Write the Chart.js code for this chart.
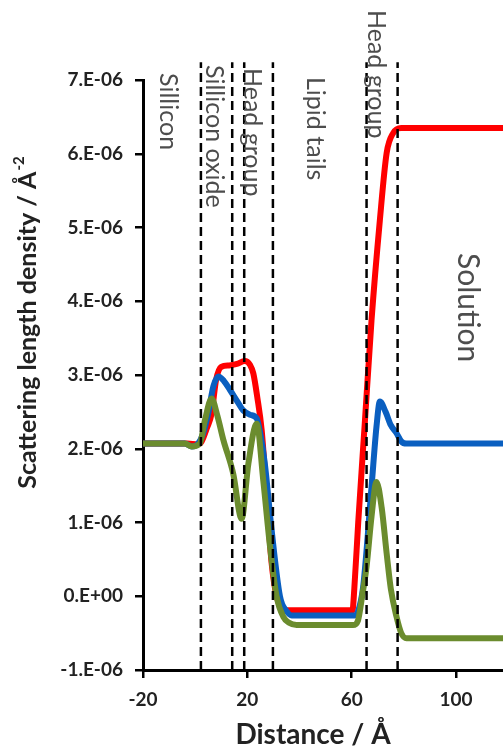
<!DOCTYPE html>
<html>
<head>
<meta charset="utf-8">
<script src="https://cdn.jsdelivr.net/npm/chart.js@4.4.1/dist/chart.umd.min.js"></script>
<style>
  html, body { margin: 0; padding: 0; background: #fff; }
  canvas { display: block; }
</style>
</head>
<body>
<canvas id="sld" width="503" height="751"></canvas>
<script>
// SLD profiles, y in units of 1E-06 Å^-2
const redX = [-20, -3, 1, 2.5, 4.5, 6.3, 8, 10, 13, 16, 19, 21, 22.3, 23.8, 25.5, 27.4, 29.3, 31.2, 33, 35, 45, 60.3, 61, 62.5, 65.1, 67.6, 70.8, 73.4, 75.9, 79, 82, 118];
const redY = [2.07, 2.07, 2.06, 2.1, 2.28, 2.48, 2.93, 3.11, 3.13, 3.15, 3.19, 3.14, 3.02, 2.7, 2.25, 1.35, 0.45, 0.0, -0.15, -0.19, -0.19, -0.19, 0.1, 1.0, 2.39, 3.74, 5.1, 6.01, 6.28, 6.35, 6.35, 6.35];

const blueX = [-20, -4, -1.3, 1.1, 3, 5, 7, 8.9, 11, 13.3, 16, 18.4, 21, 23.6, 25, 26.7, 29.3, 32.5, 35, 37, 45, 61.2, 62.5, 64.4, 67.6, 69.5, 70.8, 73, 75, 77.2, 79, 81, 90, 118];
const blueY = [2.07, 2.07, 2.03, 2.07, 2.2, 2.48, 2.85, 2.98, 2.92, 2.8, 2.65, 2.52, 2.46, 2.41, 2.2, 1.8, 0.9, 0.0, -0.2, -0.26, -0.26, -0.26, -0.2, 0.13, 1.48, 2.3, 2.64, 2.5, 2.32, 2.21, 2.1, 2.07, 2.07, 2.07];

const greenX = [-20, -4, -1.3, 1.8, 3.75, 6.3, 8.5, 10.8, 14.6, 17.8, 20.4, 23.6, 26.1, 28.7, 31.2, 33.8, 36, 38.9, 45, 60.5, 62.4, 64, 65.7, 67.6, 69.5, 71.5, 73.4, 75, 77.2, 79, 81, 90, 118];
const greenY = [2.07, 2.07, 2.03, 2.07, 2.39, 2.68, 2.45, 2.12, 1.66, 1.05, 1.8, 2.34, 1.57, 0.67, 0.0, -0.28, -0.36, -0.39, -0.39, -0.39, -0.33, 0.0, 0.4, 1.08, 1.55, 1.2, 0.58, 0.1, -0.28, -0.5, -0.57, -0.57, -0.57];

// layer boundaries (dashed lines), Å
const boundaries = [2.2, 14.2, 18.8, 29.8, 65.7, 77.6];
const dashTop = 7.24;

const xTicks = [-20, 20, 60, 100];
const yTicks = [-1, 0, 1, 2, 3, 4, 5, 6, 7];
const yTickLabels = ['-1.E-06', '0.E+00', '1.E-06', '2.E-06', '3.E-06', '4.E-06', '5.E-06', '6.E-06', '7.E-06'];

const regionNames = ['Sillicon', 'Sillicon oxide', 'Head group', 'Lipid tails', 'Head group', 'Solution'];

const pts = (xs, ys) => xs.map((x, i) => ({ x: x, y: ys[i] }));

function curve(label, xs, ys, color, order) {
    return {
        label: label,
        data: pts(xs, ys),
        showLine: true,
        borderColor: color,
        borderWidth: 6,
        pointRadius: 0,
        cubicInterpolationMode: 'monotone',
        order: order
    };
}

const dashSets = boundaries.map(b => ({
    label: 'boundary',
    data: [{ x: b, y: -1 }, { x: b, y: dashTop }],
    showLine: true,
    borderColor: '#000',
    borderWidth: 2.5,
    borderDash: [9, 5],
    pointRadius: 0,
    clip: false,
    order: 0
}));

// rotated region labels, placed by x value and pixel top
const regionLayout = [
    { x: -10.4, top: 73, size: 25 },
    { x: 7.2, top: 65, size: 25 },
    { x: 21.8, top: 68, size: 25 },
    { x: 45.9, top: 77, size: 25 },
    { x: 69.3, top: 10, size: 25 },
    { x: 104.5, top: 253, size: 30 }
];

const annotations = {
    id: 'annotations',
    afterDatasetsDraw(chart) {
        const ctx = chart.ctx;
        const xs = chart.scales.x;
        ctx.save();
        ctx.fillStyle = '#4d4d4d';
        ctx.textAlign = 'left';
        ctx.textBaseline = 'middle';
        regionNames.forEach((name, i) => {
            const p = regionLayout[i];
            ctx.save();
            ctx.translate(xs.getPixelForValue(p.x), p.top);
            ctx.rotate(Math.PI / 2);
            ctx.font = p.size + 'px Lato';
            ctx.fillText(name, 0, 0);
            ctx.restore();
        });
        ctx.restore();
    },
    afterDraw(chart) {
        // axis titles, drawn by hand so they sit where the figure has them
        const ctx = chart.ctx;
        ctx.save();
        ctx.fillStyle = '#222';
        ctx.textBaseline = 'middle';

        ctx.font = 'bold 28px Lato';
        ctx.textAlign = 'center';
        ctx.fillText('Distance / Å', 313, 735);

        const main = 'Scattering length density / Å';
        ctx.font = 'bold 25px Lato';
        const w1 = ctx.measureText(main).width;
        ctx.font = 'bold 15px Lato';
        const w2 = ctx.measureText('-2').width;
        ctx.translate(28, 323);
        ctx.rotate(-Math.PI / 2);
        ctx.textAlign = 'left';
        const start = -(w1 + w2) / 2;
        ctx.font = 'bold 25px Lato';
        ctx.fillText(main, start, 0);
        ctx.font = 'bold 15px Lato';
        ctx.fillText('-2', start + w1 + 1, -9);
        ctx.restore();
    }
};

new Chart(document.getElementById('sld'), {
    type: 'scatter',
    data: {
        datasets: [
            ...dashSets,
            curve('green', greenX, greenY, '#6b8c2e', 1),
            curve('blue', blueX, blueY, '#0a5fc0', 2),
            curve('red', redX, redY, '#ff0000', 3)
        ]
    },
    options: {
        responsive: false,
        animation: false,
        layout: { padding: { top: 80, right: 0, bottom: 0, left: 0 } },
        plugins: {
            legend: { display: false },
            tooltip: { enabled: false }
        },
        scales: {
            x: {
                type: 'linear',
                min: -20,
                max: 118,
                afterBuildTicks: (axis) => { axis.ticks = xTicks.map(v => ({ value: v })); },
                afterFit: (axis) => { axis.height = 81; },
                ticks: {
                    color: '#222',
                    padding: 10,
                    font: { family: 'Lato', weight: 'bold', size: 19 }
                },
                grid: { drawOnChartArea: false, color: '#000', lineWidth: 2.5, tickLength: 8 },
                border: { color: '#000', width: 3 }
            },
            y: {
                min: -1,
                max: 7,
                afterBuildTicks: (axis) => { axis.ticks = yTicks.map(v => ({ value: v })); },
                afterFit: (axis) => { axis.width = 143; },
                ticks: {
                    color: '#222',
                    padding: 12,
                    font: { family: 'Lato', weight: 'bold', size: 19 },
                    callback: (v) => yTickLabels[yTicks.indexOf(v)]
                },
                grid: { drawOnChartArea: false, color: '#000', lineWidth: 2.5, tickLength: 8 },
                border: { color: '#000', width: 3 }
            }
        }
    },
    plugins: [annotations]
});
</script>
</body>
</html>
